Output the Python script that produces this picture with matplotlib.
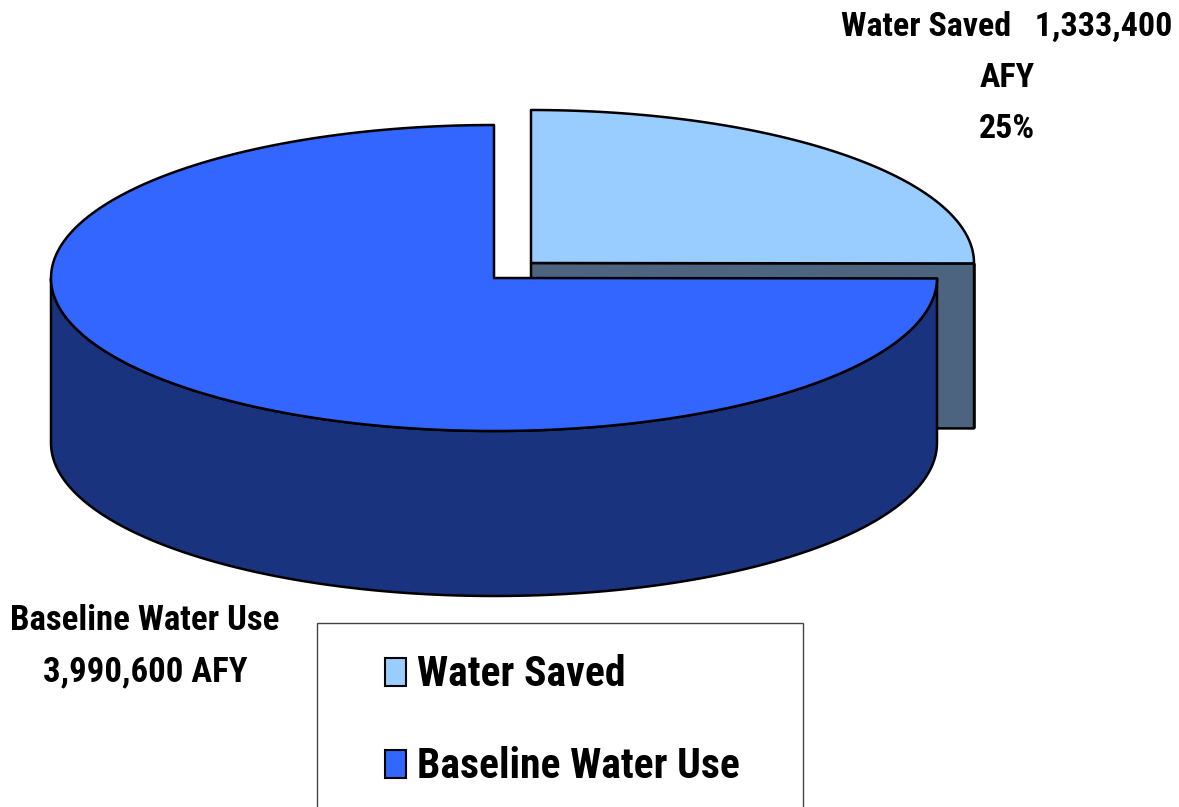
import numpy as np
import matplotlib
matplotlib.use("Agg")
import matplotlib.pyplot as plt
from matplotlib import font_manager as fm
from matplotlib.patches import Polygon, Rectangle

categories = ["Water Saved", "Baseline Water Use"]
values = [1333400, 3990600]
top_colors = ["#99ccff", "#3366ff"]
side_colors = ["#4d6480", "#19337f"]
labels = ["Water Saved   1,333,400\nAFY\n25%", "Baseline Water Use\n3,990,600 AFY"]

names = {f.name for f in fm.fontManager.ttflist}
fam = "Roboto Condensed" if "Roboto Condensed" in names else "Liberation Sans"
plt.rcParams["font.family"] = [fam, "DejaVu Sans"]

fig = plt.figure(figsize=(11.79, 8.07), dpi=100)
ax = fig.add_axes([0, 0, 1, 1])
ax.set_xlim(0, 1179); ax.set_ylim(807, 0); ax.axis("off")

RX, RY, DEPTH = 443, 153, 165
fracs = np.array(values) / sum(values)
starts = [np.pi / 2, np.pi / 2 - 2 * np.pi * fracs[0]]
ends = [np.pi / 2 - 2 * np.pi * fracs[0], np.pi / 2 - 2 * np.pi]
centers = [(531, 263), (494, 278)]
EC = dict(edgecolor="black", linewidth=1.8, joinstyle="round")

def rim(c, a0, a1, n=300):
    t = np.linspace(a0, a1, n)
    return np.column_stack([c[0] + RX * np.cos(t), c[1] - RY * np.sin(t)])

for i in range(2):
    c = centers[i]
    arc = rim(c, starts[i], ends[i])
    if i == 0:
        end = arc[-1]
        ax.add_patch(Polygon([c, end, (end[0], end[1] + DEPTH), (c[0], c[1] + DEPTH)],
                             facecolor=side_colors[i], **EC))
    low = np.sin(np.linspace(starts[i], ends[i], 300)) <= 0.001
    wall = arc[low]
    if len(wall):
        ax.add_patch(Polygon(np.vstack([wall, (wall[::-1] + [0, DEPTH])]),
                             facecolor=side_colors[i], **EC))
    ax.add_patch(Polygon(np.vstack([[c], arc]), facecolor=top_colors[i], **EC))

ax.text(1007, 78, labels[0], ha="center", va="center", fontsize=24.5, fontweight="bold", linespacing=1.75)
ax.text(145, 646, labels[1], ha="center", va="center", fontsize=25, fontweight="bold", linespacing=1.7)

ax.add_patch(Rectangle((316.5, 622.5), 486, 200, facecolor="white", edgecolor="#444444", linewidth=1))
for name, col, y in zip(categories, top_colors, [672, 764]):
    ax.add_patch(Rectangle((385, y - 14), 21, 28, facecolor=col, edgecolor="black", linewidth=1.5))
    ax.text(417, y + 2, name, ha="left", va="center", fontsize=30, fontweight="bold")

fig.savefig("out.png", dpi=100)
